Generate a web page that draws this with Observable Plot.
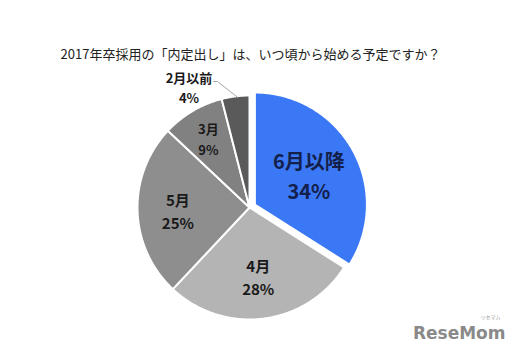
<!DOCTYPE html>
<html>
<head>
<meta charset="utf-8">
<script src="https://cdn.jsdelivr.net/npm/d3@7"></script>
<script src="https://cdn.jsdelivr.net/npm/@observablehq/plot@0.6"></script>
<style>
  html, body { margin: 0; padding: 0; background: #fff; }
  #chart { width: 520px; height: 359px; }
</style>
</head>
<body>
<div id="chart"></div>
<script>
// ---- data ----
const title = "2017年卒採用の「内定出し」は、いつ頃から始める予定ですか？";
const categories = ["6月以降", "4月", "5月", "3月", "2月以前"];
const values = [34, 28, 25, 9, 4];
const colors = ["#3b78f5", "#b4b4b4", "#8e8e8e", "#818181", "#5a5a5a"];

// ---- layout ----
const cx = 249, cy = 207, R = 112;
const explode = {"6月以降": 0.055};
const labelR = {"6月以降": 0.55, "4月": 0.62, "5月": 0.64, "3月": 0.72};
const outside = {"2月以前": {r: 1.204, angle: -26.65}};
const font = "'Noto Sans CJK JP', 'Noto Sans', sans-serif";

const total = d3.sum(values);
let acc = 0;
const slices = categories.map((c, i) => {
  const a0 = acc / total * 2 * Math.PI;
  acc += values[i];
  const a1 = acc / total * 2 * Math.PI;
  const mid = (a0 + a1) / 2;
  const e = explode[c] || 0;
  return {key: c, value: values[i], a0, a1, mid, ox: e * Math.sin(mid), oy: e * Math.cos(mid)};
});

// polygons
const poly = [];
for (const s of slices) {
  poly.push({key: s.key, x: s.ox, y: s.oy});
  const n = Math.max(2, Math.ceil((s.a1 - s.a0) / (Math.PI / 360)));
  for (let k = 0; k <= n; k++) {
    const t = s.a0 + (s.a1 - s.a0) * k / n;
    poly.push({key: s.key, x: s.ox + Math.sin(t), y: s.oy + Math.cos(t)});
  }
}

// labels
const labels = slices.map(s => {
  let x, y;
  if (outside[s.key]) {
    const a = outside[s.key].angle * Math.PI / 180;
    x = outside[s.key].r * Math.sin(a); y = outside[s.key].r * Math.cos(a);
  } else {
    const r = labelR[s.key];
    x = s.ox + r * Math.sin(s.mid); y = s.oy + r * Math.cos(s.mid);
  }
  return {key: s.key, x, y, text: s.key + "\n" + s.value + "%"};
});
const big = labels.filter(d => d.key === "6月以降");
const mid = labels.filter(d => d.key === "4月" || d.key === "5月");
const small = labels.filter(d => d.key === "3月" || d.key === "2月以前");

// leader line for outside label
const sOut = slices.find(s => s.key === "2月以前");
const leader = [
  {x: 0.99 * Math.sin(sOut.mid) + 0.02, y: 0.99 * Math.cos(sOut.mid)},
  {x: -0.286, y: 1.125},
  {x: -0.32, y: 1.125}
];

const chart = Plot.plot({
  width: 520,
  height: 359,
  margin: 0,
  x: {domain: [-1, 1], range: [cx - R, cx + R], axis: null},
  y: {domain: [-1, 1], range: [cy + R, cy - R], axis: null},
  color: {domain: categories, range: colors},
  style: {fontFamily: font, background: "#fff"},
  marks: [
    Plot.text([title], {frameAnchor: "top", dy: 49, dx: -10, text: d => d, fontSize: 13, fill: "#222", fontFamily: font}),
    Plot.line(poly, {x: "x", y: "y", z: "key", fill: "key", stroke: "#fff", strokeWidth: 2, strokeLinejoin: "round", curve: "linear-closed"}),
    Plot.line(leader, {x: "x", y: "y", stroke: "#a6a6a6", strokeWidth: 1}),
    Plot.text(big, {x: "x", y: "y", text: "text", fontSize: 20, fontWeight: "bold", fill: "#13204a", lineHeight: 1.5, fontFamily: font}),
    Plot.text(mid, {x: "x", y: "y", text: "text", fontSize: 15, fontWeight: "bold", fill: "#1a1a1a", lineHeight: 1.55, fontFamily: font}),
    Plot.text(small, {x: "x", y: "y", text: "text", fontSize: 13, fontWeight: "bold", fill: "#1a1a1a", lineHeight: 1.55, fontFamily: font}),
    Plot.text(["ReseMom"], {frameAnchor: "bottom-right", dx: -15, dy: -21, text: d => d, fontSize: 17, fontWeight: "bold", fill: "#8a8a8a", fontFamily: "'DejaVu Sans', sans-serif"}),
    Plot.text(["リセマム"], {frameAnchor: "bottom-right", dx: -20, dy: -41, text: d => d, fontSize: 5, fill: "#999", fontFamily: font})
  ]
});
document.getElementById("chart").appendChild(chart);
</script>
</body>
</html>
